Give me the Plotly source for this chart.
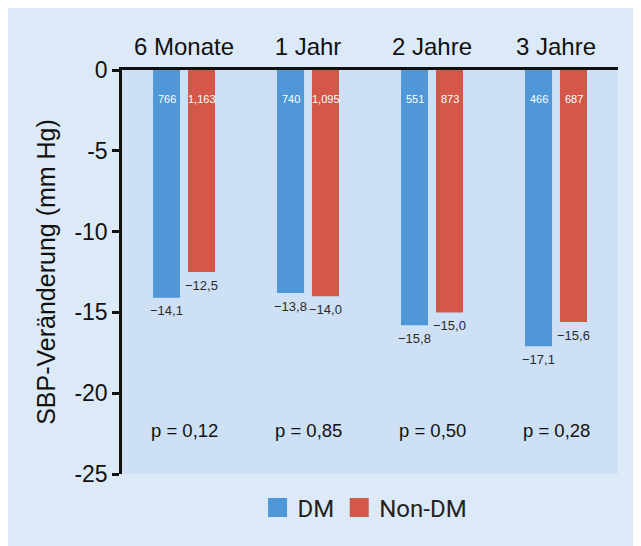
import plotly.graph_objects as go

categories = ["6 Monate", "1 Jahr", "2 Jahre", "3 Jahre"]
dm_values = [-14.1, -13.8, -15.8, -17.1]
nondm_values = [-12.5, -14.0, -15.0, -15.6]
dm_counts = ["766", "740", "551", "466"]
nondm_counts = ["1,163", "1,095", "873", "687"]
p_values = ["0,12", "0,85", "0,50", "0,28"]
y_ticks = [0, -5, -10, -15, -20, -25]
y_ticktext = ["0", "-5", "-10", "-15", "-20", "-25"]

BLUE = "#4f97d6"
RED = "#d4584a"
OUTER = "#dceaf8"
INNER = "#cde0f5"
FONT = "Liberation Sans, Arial, sans-serif"

def fmt(v):
    return ("\u2212" + f"{abs(v):.1f}").replace(".", ",")

W = 0.218
fig = go.Figure()
fig.add_trace(go.Bar(x=categories, y=dm_values, width=W, offset=-0.25,
                     marker=dict(color=BLUE, line=dict(width=0)), showlegend=False))
fig.add_trace(go.Bar(x=categories, y=nondm_values, width=W, offset=0.032,
                     marker=dict(color=RED, line=dict(width=0)), showlegend=False))
# legend proxies
fig.add_trace(go.Scatter(x=[None], y=[None], mode="markers", name="DM",
                         marker=dict(symbol="square", size=16, color=BLUE,
                                     line=dict(width=3, color=BLUE))))
fig.add_trace(go.Scatter(x=[None], y=[None], mode="markers", name="Non-DM",
                         marker=dict(symbol="square", size=16, color=RED,
                                     line=dict(width=3, color=RED))))

ann = []
for i, c in enumerate(categories):
    ann.append(dict(x=i, y=-1.8, xref="x", yref="y", text=dm_counts[i], showarrow=False,
                    xshift=-17.5, font=dict(size=11, color="white", family=FONT)))
    ann.append(dict(x=i, y=-1.8, xref="x", yref="y", text=nondm_counts[i], showarrow=False,
                    xshift=17.5, font=dict(size=11, color="white", family=FONT)))
    ann.append(dict(x=i, y=dm_values[i], xref="x", yref="y", text=fmt(dm_values[i]),
                    showarrow=False, xshift=-17.5, yshift=-13, yanchor="middle",
                    font=dict(size=13, color="#2a2a2a", family=FONT)))
    ann.append(dict(x=i, y=nondm_values[i], xref="x", yref="y", text=fmt(nondm_values[i]),
                    showarrow=False, xshift=17.5, yshift=-13, yanchor="middle",
                    font=dict(size=13, color="#2a2a2a", family=FONT)))
    ann.append(dict(x=i, y=-22.3, xref="x", yref="y", text="p = " + p_values[i], showarrow=False,
                    font=dict(size=18.5, color="#111", family=FONT)))

fig.update_layout(
    width=641, height=546,
    margin=dict(l=114, r=31, t=62, b=80),
    paper_bgcolor=OUTER, plot_bgcolor=INNER,
    barmode="overlay",
    annotations=ann,
    legend=dict(orientation="h", x=0.49, xanchor="center", y=-0.084, yanchor="middle",
                font=dict(size=24, color="#222", family="Roboto, sans-serif"),
                bgcolor="rgba(0,0,0,0)", itemsizing="trace"),
    xaxis=dict(type="category", range=[-0.5, 3.5], side="top", showline=True, linewidth=3,
               linecolor="#111", showgrid=False, zeroline=False, ticks="",
               tickfont=dict(size=24, color="#111", family=FONT), ticklabelstandoff=2),
    yaxis=dict(range=[-25, 0], tickvals=y_ticks, ticktext=y_ticktext, showline=True,
               linewidth=2.5, linecolor="#111", ticks="outside", ticklen=7, tickwidth=2.5,
               tickcolor="#111", showgrid=False, zeroline=False,
               tickfont=dict(size=23, color="#111", family=FONT),
               title=dict(text="SBP-Veränderung (mm Hg)", standoff=12,
                          font=dict(size=25, color="#111", family=FONT))),
)
fig.write_html("out.html")
